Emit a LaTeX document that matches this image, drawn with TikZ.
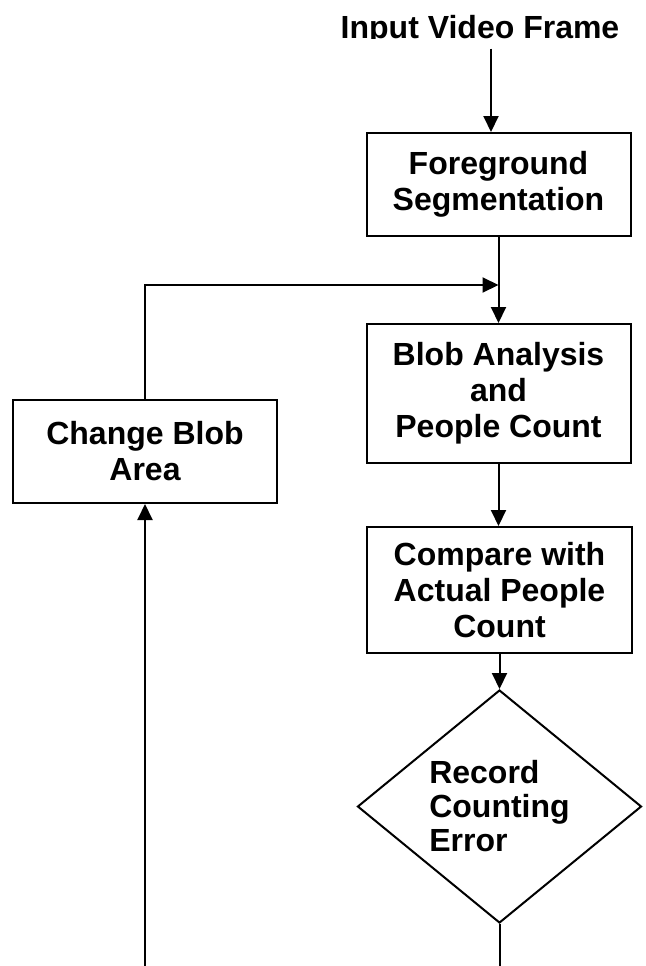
\documentclass[tikz,border=0pt]{standalone}
\usepackage{fontspec}
\setmainfont{Liberation Sans}
\usetikzlibrary{arrows.meta,shapes.geometric}
\begin{document}
\begin{tikzpicture}[x=1pt,y=-1pt,line width=2pt,
  every node/.style={font=\fontsize{32}{36}\selectfont\bfseries,align=center,inner sep=0pt},
  box/.style={draw,minimum width=264pt},
  arr/.style={-{Triangle[length=16pt,width=15pt]}}]
\useasboundingbox (0,0) rectangle (645,966);
\begin{scope}
\clip (0,0) rectangle (645,39);
\node[anchor=base] (input) at (480,38) {Input Video Frame};
\end{scope}
\node[box,minimum height=103pt] (fg) at (498.5,184.5) {Foreground\\Segmentation};
\node[box,minimum height=139pt] (blob) at (498.5,393.5) {Blob Analysis\\and\\People Count};
\node[box,minimum height=103pt] (change) at (145,451.5) {Change Blob\\Area};
\node[box,minimum width=265pt,minimum height=126pt] (cmp) at (499.5,590) {Compare with\\Actual People\\Count};
\node[draw,diamond,aspect=1.2,minimum width=284pt,minimum height=233pt,align=left,
  font=\fontsize{32}{34}\selectfont\bfseries] (rec) at (499.5,806.5) {Record\\Counting\\Error};
\coordinate (join) at (498.5,285);
\coordinate (endR) at (499.5,966);
\coordinate (endL) at (145,966);
\draw[arr] ([xshift=11pt,yshift=-3pt]input.south) -- ([xshift=11pt]input.south |- fg.north);
\draw[arr] (fg) -- (blob);
\draw[arr] (change.north) |- (join);
\draw[arr] (blob.south) -- (blob.south |- cmp.north);
\draw[arr] (cmp.south) -- (rec.north);
\draw (rec.south) -- (endR);
\draw[arr] (endL) -- (change.south);
\end{tikzpicture}
\end{document}
